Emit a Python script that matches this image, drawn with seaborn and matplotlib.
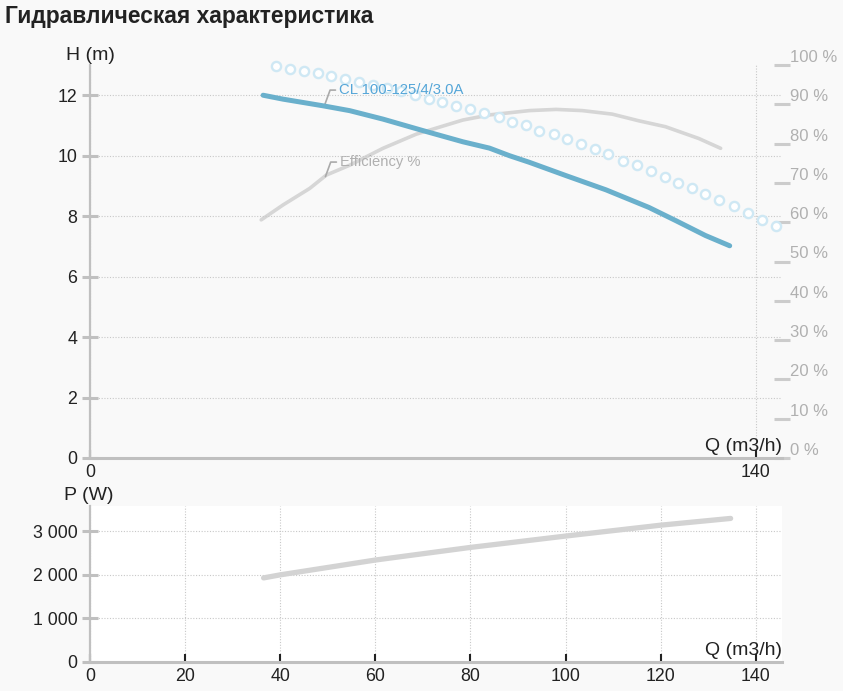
import matplotlib
matplotlib.use("Agg")
import matplotlib.pyplot as plt
import seaborn as sns

# head curve H(Q)
q_head = [36.4, 40.6, 49.0, 54.6, 61.6, 70.0, 78.4, 84.0, 88.2, 92.4, 100.1,
          108.5, 117.5, 123.2, 129.4, 134.5]
head = [12.00, 11.87, 11.65, 11.49, 11.21, 10.83, 10.46, 10.25, 10.00, 9.78,
        9.34, 8.87, 8.29, 7.85, 7.36, 7.02]

# dotted (circle) curve
q_circ = [39.2, 42.1, 45.0, 47.9, 50.7, 53.7, 56.5, 59.5, 62.4, 65.4, 68.4,
          71.2, 74.0, 77.0, 79.9, 82.8, 85.9, 88.7, 91.7, 94.5, 97.5, 100.3,
          103.3, 106.1, 109.0, 112.1, 115.0, 118.0, 120.8, 123.7, 126.6,
          129.4, 132.3, 135.5, 138.4, 141.3, 144.2]
h_circ = [12.97, 12.88, 12.81, 12.73, 12.64, 12.55, 12.44, 12.34, 12.24, 12.15,
          12.01, 11.89, 11.78, 11.65, 11.54, 11.42, 11.29, 11.12, 11.01, 10.83,
          10.72, 10.54, 10.39, 10.21, 10.06, 9.84, 9.68, 9.51, 9.31, 9.10,
          8.93, 8.74, 8.52, 8.32, 8.12, 7.88, 7.66]

# efficiency %
q_eff = [36.0, 40.6, 46.2, 49.7, 54.6, 61.6, 68.6, 78.4, 84.0, 92.4, 98.0,
         103.5, 109.8, 115.4, 121.0, 128.0, 132.6]
eff = [60.6, 64.4, 68.6, 72.0, 74.5, 78.8, 82.4, 86.0, 87.3, 88.4, 88.7,
       88.4, 87.5, 85.8, 84.3, 81.3, 78.8]

# power P(Q)
q_power = [36.5, 40, 60, 80, 100, 120, 134.7]
power = [1930, 2000, 2340, 2630, 2890, 3140, 3295]

h_ticks = [0, 2, 4, 6, 8, 10, 12]
eff_ticks = [0, 10, 20, 30, 40, 50, 60, 70, 80, 90, 100]
eff_labels = [f"{v} %" for v in eff_ticks]
p_ticks = [0, 1000, 2000, 3000]
p_labels = ["0", "1 000", "2 000", "3 000"]
q_ticks_top = [0, 140]
q_ticks_bottom = [0, 20, 40, 60, 80, 100, 120, 140]

sns.set_theme(style="white")
plt.rcParams['font.family'] = ['Liberation Sans', 'DejaVu Sans']

BG = "#f9f9f9"
AXIS = "#c0c0c0"
GRID = "#c8c8c8"
TXT = "#222222"

W, H = 843, 691
fig = plt.figure(figsize=(W / 100, H / 100), dpi=100, facecolor=BG)

def rect(x0, y0, x1, y1):
    return [x0 / W, 1 - y1 / H, (x1 - x0) / W, (y1 - y0) / H]

ax = fig.add_axes(rect(90, 65, 782, 458))
ax2 = ax.twinx()
ax.set_zorder(2)
ax2.set_zorder(1)
ax.patch.set_visible(False)
ax2.set_facecolor("white")

# curves
sns.lineplot(x=q_eff, y=eff, ax=ax2, color="#d6d6d6", linewidth=2.6)
sns.scatterplot(x=q_circ, y=h_circ, ax=ax, marker="o", s=44,
                facecolor="white", edgecolor="#cfe8f4", linewidth=1.7,
                zorder=3, clip_on=False)
sns.lineplot(x=q_head, y=head, ax=ax, color="#6ab0cc", linewidth=3.6, zorder=4)

ax.set_xlim(0, 145.5)
ax.set_ylim(0, 13)
ax2.set_ylim(0, 100)

ax.set_xticks(q_ticks_top)
ax.set_yticks(h_ticks)
ax.set_yticklabels([str(v) for v in h_ticks])
ax.grid(True, linestyle=(0, (1, 1.5)), color=GRID, linewidth=0.8)
ax2.grid(False)
ax.set_xlabel("")
ax.set_ylabel("")

ax2.set_yticks(eff_ticks)
ax2.set_yticklabels(eff_labels)
for lab in ax2.get_yticklabels():
    lab.set_verticalalignment("bottom")
ax2.tick_params(axis="y", direction="inout", length=11, width=2.2,
                color="#cccccc", labelcolor="#b0b0b0", labelsize=12, pad=0.5,
                right=True)

for a in (ax, ax2):
    for s in ("top", "right", "left", "bottom"):
        a.spines[s].set_visible(False)
ax.spines["left"].set_visible(True)
ax.spines["left"].set_color(AXIS)
ax.spines["left"].set_linewidth(1.6)
ax.spines["bottom"].set_visible(True)
ax.spines["bottom"].set_color(AXIS)
ax.spines["bottom"].set_linewidth(2.2)

ax.tick_params(axis="y", direction="inout", length=12, width=2.2,
               color=AXIS, labelcolor=TXT, labelsize=12.8, pad=3, left=True)
ax.tick_params(axis="x", direction="in", length=6, width=1.5,
               color="#222222", labelcolor=TXT, labelsize=12.8, pad=4,
               bottom=True)

ax.annotate("CL 100-125/4/3.0A", xy=(49.3, 11.66), xytext=(52.3, 12.17),
            color="#55a6d8", fontsize=10.7, ha="left", va="center",
            arrowprops=dict(arrowstyle="-", color="#aaaaaa", lw=1.2,
                            relpos=(0, 0.5), shrinkA=0, shrinkB=0,
                            connectionstyle="angle,angleA=180,angleB=70,rad=0"))
ax2.annotate("Efficiency %", xy=(49.5, 71.6), xytext=(52.5, 75.3),
             color="#b0b0b0", fontsize=10.6, ha="left", va="center",
             arrowprops=dict(arrowstyle="-", color="#aaaaaa", lw=1.2,
                             relpos=(0, 0.5), shrinkA=0, shrinkB=0,
                             connectionstyle="angle,angleA=180,angleB=70,rad=0"))

ax.annotate("Q (m3/h)", xy=(1, 0), xycoords="axes fraction", xytext=(0, 2),
            textcoords="offset points", ha="right", va="bottom",
            fontsize=14, color=TXT)

# bottom chart: power
bx = fig.add_axes(rect(90, 506, 782, 662), facecolor="white")
sns.lineplot(x=q_power, y=power, ax=bx, color="#d3d3d3", linewidth=3.8)
bx.set_xlim(0, 145.5)
bx.set_ylim(0, 3580)
bx.set_xticks(q_ticks_bottom)
bx.set_yticks(p_ticks)
bx.set_yticklabels(p_labels)
bx.grid(True, linestyle=(0, (1, 1.5)), color=GRID, linewidth=0.8)
bx.set_xlabel("")
bx.set_ylabel("")
for s in ("top", "right"):
    bx.spines[s].set_visible(False)
bx.spines["left"].set_color(AXIS)
bx.spines["left"].set_linewidth(1.6)
bx.spines["bottom"].set_color(AXIS)
bx.spines["bottom"].set_linewidth(2.2)
bx.tick_params(axis="y", direction="inout", length=12, width=2.2,
               color=AXIS, labelcolor=TXT, labelsize=12.8, pad=3, left=True)
bx.tick_params(axis="x", direction="in", length=6, width=1.5,
               color="#222222", labelcolor=TXT, labelsize=12.8, pad=4,
               bottom=True)
bx.annotate("Q (m3/h)", xy=(1, 0), xycoords="axes fraction", xytext=(0, 2),
            textcoords="offset points", ha="right", va="bottom",
            fontsize=14, color=TXT)

fig.text(90 / W, 1 - 55 / H, "H (m)", ha="center", va="center",
         fontsize=14, color=TXT)
fig.text(89 / W, 1 - 495 / H, "P (W)", ha="center", va="center",
         fontsize=14, color=TXT)
fig.text(5 / W, 1 - 17 / H, "Гидравлическая характеристика", ha="left",
         va="center", fontsize=16.4, fontweight="bold", color=TXT)

fig.savefig("out.png", dpi=100, facecolor=BG)
